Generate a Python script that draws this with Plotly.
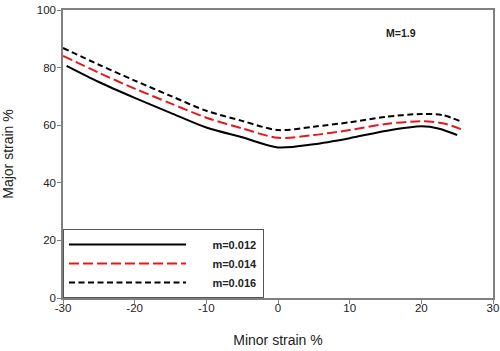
import plotly.graph_objects as go

x_m012 = [-29.5, -25, -20, -15, -10, -5, 0, 5, 10, 15, 20, 22.5, 25]
y_m012 = [80.6, 75.0, 69.5, 64.3, 59.2, 55.8, 52.3, 53.4, 55.5, 58.0, 59.6, 58.8, 56.6]

x_m014 = [-30, -25, -20, -15, -10, -5, 0, 5, 10, 15, 20, 23, 26]
y_m014 = [84.1, 78.2, 72.7, 67.6, 62.6, 58.9, 55.6, 56.6, 58.3, 60.4, 61.4, 60.7, 58.2]

x_m016 = [-30, -25, -20, -15, -10, -5, 0, 5, 10, 15, 20, 23, 25.5]
y_m016 = [86.8, 81.0, 75.5, 70.2, 65.0, 61.5, 58.3, 59.5, 61.0, 62.9, 63.9, 63.5, 61.3]

x_ticks = [-30, -20, -10, 0, 10, 20, 30]
x_ticklabels = ["-30", "-20", "-10", "0", "10", "20", "30"]
y_ticks = [0, 20, 40, 60, 80, 100]
y_ticklabels = ["0", "20", "40", "60", "80", "100"]

series = [
    ("m=0.012", x_m012, y_m012, "black", "solid"),
    ("m=0.014", x_m014, y_m014, "#e31a1c", "10px,4px"),
    ("m=0.016", x_m016, y_m016, "black", "6px,3.5px"),
]

pad = "\u00a0" * 7
fig = go.Figure()
for name, xs, ys, col, dash in series:
    fig.add_trace(go.Scatter(x=xs, y=ys, mode="lines", name=pad + name,
                             line=dict(color=col, width=2, dash=dash, shape="spline", smoothing=0.8)))

axis_common = dict(showline=True, linecolor="#808080", linewidth=1.5, mirror=True,
                   ticks="outside", ticklen=4, tickcolor="#808080", showgrid=False,
                   zeroline=False, automargin=False,
                   tickfont=dict(family="Liberation Sans, Arial", size=11.5, color="#222"))

fig.update_layout(
    width=500, height=351,
    margin=dict(l=63, r=7, t=10, b=53),
    plot_bgcolor="white", paper_bgcolor="white",
    font=dict(family="Liberation Sans, Arial", color="#222"),
    xaxis=dict(range=[-30, 30], tickvals=x_ticks, ticktext=x_ticklabels, ticklabelstandoff=-6,
               title=dict(text="Minor strain %", font=dict(size=14), standoff=23), **axis_common),
    yaxis=dict(range=[0, 100], tickvals=y_ticks, ticktext=y_ticklabels, ticklabelstandoff=-1,
               title=dict(text="Major strain %", font=dict(size=14), standoff=20), **axis_common),
    legend=dict(x=0, y=0, xanchor="left", yanchor="bottom", bordercolor="#555", borderwidth=1,
                bgcolor="white", itemwidth=117, tracegroupgap=0,
                font=dict(size=11, weight="bold", color="#222")),
    showlegend=True,
    annotations=[dict(x=17.2, y=92, xref="x", yref="y", text="<b>M=1.9</b>", showarrow=False,
                      font=dict(size=10.5, color="#222"))],
)

fig.write_html("out.html", config={"displayModeBar": False},
               post_script="document.body.style.margin='0';document.body.style.overflow='hidden';")
